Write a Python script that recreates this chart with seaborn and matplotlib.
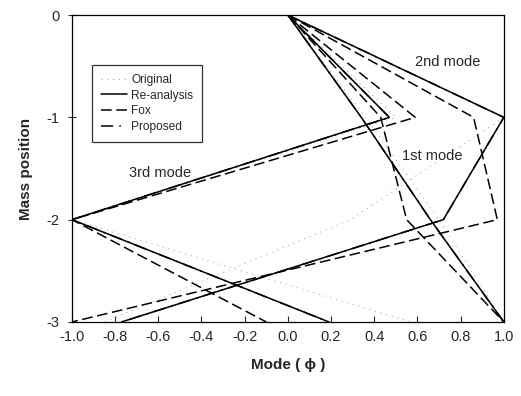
import matplotlib
matplotlib.use("Agg")
import matplotlib.pyplot as plt
import seaborn as sns

# mass positions (y) and mode shape values (x)
mass_position = [0, -1, -2, -3]

original_1 = [0, 0.36, 0.70, 1.0]
original_2 = [0, 1.0, 0.29, -0.85]
original_3 = [0, 0.50, -1.0, 0.57]

reanalysis_1 = [0, 0.34, 0.66, 1.0]
reanalysis_2 = [0, 1.0, 0.72, -0.77]
reanalysis_3 = [0, 0.47, -1.0, 0.19]

fox_1 = [0, 0.43, 0.55, 1.0]
fox_2 = [0, 0.86, 0.97, -1.0]
fox_3 = [0, 0.59, -1.0, -0.10]

proposed_1 = [0, 0.34, 0.66, 1.0]
proposed_2 = [0, 1.0, 0.72, -0.77]
proposed_3 = [0, 0.47, -1.0, 0.19]

x_ticks = [-1.0, -0.8, -0.6, -0.4, -0.2, 0.0, 0.2, 0.4, 0.6, 0.8, 1.0]
y_ticks = [0, -1, -2, -3]
mode_labels = ["1st mode", "2nd mode", "3rd mode"]
mode_label_pos = [(0.67, -1.38), (0.74, -0.46), (-0.59, -1.545)]

sns.set_style("ticks")
plt.rcParams["font.family"] = ["Liberation Sans", "DejaVu Sans"]

fig = plt.figure(figsize=(5.21, 3.96), dpi=100)
ax = fig.add_axes([0.138, 0.187, 0.829, 0.775])

series = [
    ("Original", [original_1, original_2, original_3],
     dict(color="0.6", lw=0.7, linestyle=(0, (1, 5)))),
    ("Proposed", [proposed_1, proposed_2, proposed_3],
     dict(color="black", lw=1.1, linestyle=(0, (8, 4, 1, 4)))),
    ("Fox", [fox_1, fox_2, fox_3],
     dict(color="black", lw=1.1, linestyle=(0, (7, 3)))),
    ("Re-analysis", [reanalysis_1, reanalysis_2, reanalysis_3],
     dict(color="black", lw=1.1, linestyle="-")),
]

handles = {}
for name, modes, style in series:
    for k, values in enumerate(modes):
        sns.lineplot(x=values, y=mass_position, sort=False, estimator=None,
                     ax=ax, label=name if k == 0 else None, **style)
    handles[name] = ax.lines[-3]

for text, (tx, ty) in zip(mode_labels, mode_label_pos):
    ax.text(tx, ty, text, fontsize=10.5, ha="center", va="center")

ax.set_xlim(-1.0, 1.0)
ax.set_ylim(-3, 0)
ax.set_xticks(x_ticks)
ax.set_xticklabels([f"{v:.1f}" for v in x_ticks])
ax.set_yticks(y_ticks)
ax.set_yticklabels([str(v) for v in y_ticks])
ax.tick_params(axis="x", direction="in", length=4, width=0.8, labelsize=10.5, pad=6)
ax.tick_params(axis="y", direction="inout", length=6, width=0.8, labelsize=10.5, pad=6)
for side in ["top", "right", "bottom", "left"]:
    ax.spines[side].set_visible(True)
    ax.spines[side].set_linewidth(0.9)
    ax.spines[side].set_color("black")

ax.set_xlabel("Mode ( \u03d5 )", fontsize=11, fontweight="bold", labelpad=10)
ax.set_ylabel("Mass position", fontsize=11, fontweight="bold", labelpad=10)

order = ["Original", "Re-analysis", "Fox", "Proposed"]
leg = ax.legend([handles[n] for n in order], order, loc="upper left",
                bbox_to_anchor=(0.046, 0.837), borderaxespad=0, fontsize=8.6,
                frameon=True, fancybox=False, handlelength=2.2, labelspacing=0.3,
                borderpad=0.75, handletextpad=0.35)
leg.get_frame().set_edgecolor("black")
leg.get_frame().set_linewidth(0.9)

fig.savefig("out.png", dpi=100)
